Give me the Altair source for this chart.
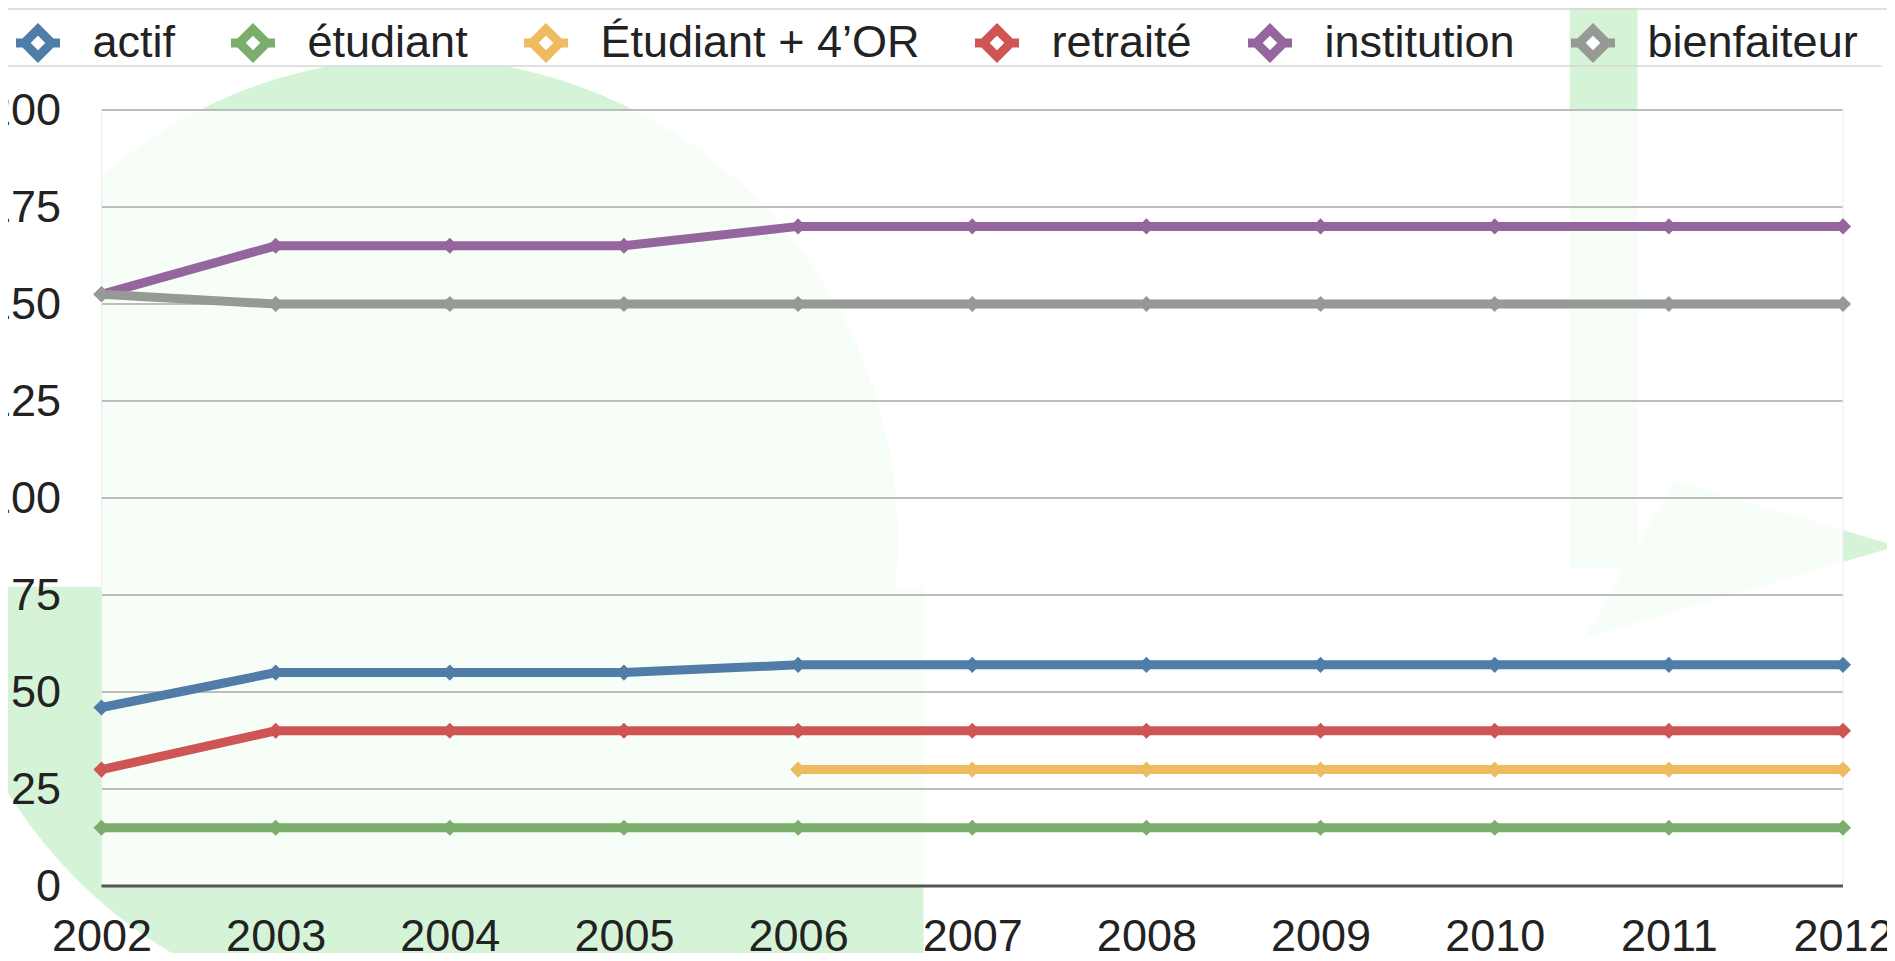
import altair as alt
import pandas as pd

# ---------------- data ----------------
years = [2002, 2003, 2004, 2005, 2006, 2007, 2008, 2009, 2010, 2011, 2012]
series_names = ["actif", "étudiant", "Étudiant + 4’OR", "retraité", "institution", "bienfaiteur"]
actif = [46, 55, 55, 55, 57, 57, 57, 57, 57, 57, 57]
etudiant = [15, 15, 15, 15, 15, 15, 15, 15, 15, 15, 15]
etudiant_4or = [None, None, None, None, 30, 30, 30, 30, 30, 30, 30]
retraite = [30, 40, 40, 40, 40, 40, 40, 40, 40, 40, 40]
institution = [152.5, 165, 165, 165, 170, 170, 170, 170, 170, 170, 170]
bienfaiteur = [152.5, 150, 150, 150, 150, 150, 150, 150, 150, 150, 150]
series_colors = ["#507DA8", "#7BAE6C", "#EFBB60", "#CF5555", "#95659E", "#959A97"]
y_ticks = [0, 25, 50, 75, 100, 125, 150, 175, 200]

series_values = [actif, etudiant, etudiant_4or, retraite, institution, bienfaiteur]
rows = []
for name, vals in zip(series_names, series_values):
    for yr, v in zip(years, vals):
        if v is not None:
            rows.append({"x": yr, "y": v, "serie": name})
df = pd.DataFrame(rows)

# ---------------- layout / style ----------------
FONT = "Liberation Sans"
TXT = "#222222"
X_DOM = [years[0], years[-1]]
Y_DOM = [y_ticks[0], y_ticks[-1]]
W, H = 1741.5, 776

X = alt.X("x:Q", scale=alt.Scale(domain=X_DOM, nice=False, zero=False),
          axis=alt.Axis(values=years, format="d", title=None, grid=False, ticks=False,
                        tickSize=0, domain=False, labelFontSize=45, labelFont=FONT,
                        labelColor=TXT, labelPadding=28, labelFlush=False,
                        labelOverlap=False, zindex=1))
Y = alt.Y("y:Q", scale=alt.Scale(domain=Y_DOM, nice=False, zero=False),
          axis=alt.Axis(values=y_ticks, title=None, grid=False, ticks=False, tickSize=0,
                        domain=False, labelFontSize=45, labelFont=FONT, labelColor=TXT,
                        labelPadding=41, labelOverlap=False, zindex=1))
X2 = alt.X2("x2:Q")
Y2 = alt.Y2("y2:Q")

# ---- decorative watermark (light green logo behind the plot) ----
WM = "#d5f3d7"
wm_circle = alt.Chart(alt.Data(values=[{"x": 2003.81, "y": 89.4}])).mark_point(
    shape="circle", filled=True, color=WM, opacity=1, size=925444).encode(x=X, y=Y)
wm_rect = alt.Chart(alt.Data(values=[{"x": 2004.75, "x2": 2006.72, "y": -21, "y2": 77.1}])).mark_rect(
    color=WM).encode(x=X, x2=X2, y=Y, y2=Y2)
band = alt.Chart(alt.Data(values=[{"x": 2001, "x2": 2013, "y": 211.3, "y2": 226.5}])).mark_rect(
    color="white").encode(x=X, x2=X2, y=Y, y2=Y2)
wm_strip = alt.Chart(alt.Data(values=[{"x": 2010.43, "x2": 2010.82, "y": 82, "y2": 240}])).mark_rect(
    color=WM).encode(x=X, x2=X2, y=Y, y2=Y2)
wm_arrow = alt.Chart(alt.Data(values=[{"x": 2011.41, "y": 84.0}])).mark_point(
    shape="M-0.406,-0.494L0.981,-0.0875L-0.975,0.4875Z", filled=True, color=WM,
    opacity=1, size=102400).encode(x=X, y=Y)
knock = alt.Chart(alt.Data(values=[{"x": 2001, "x2": 2002, "y": 77.1, "y2": 211.3}])).mark_rect(
    color="white").encode(x=X, x2=X2, y=Y, y2=Y2)
overlay = alt.Chart(alt.Data(values=[{"x": X_DOM[0], "x2": X_DOM[1], "y": Y_DOM[0], "y2": Y_DOM[1]}])).mark_rect(
    color="white", opacity=0.8).encode(x=X, x2=X2, y=Y, y2=Y2)

# ---- grid ----
grid_df = pd.DataFrame({"y": y_ticks[1:], "x": X_DOM[0], "x2": X_DOM[1]})
grid = alt.Chart(grid_df).mark_rule(color="#bdbdbd", strokeWidth=2).encode(x=X, x2=X2, y=Y)
edges_df = pd.DataFrame({"x": X_DOM, "y": Y_DOM[0], "y2": Y_DOM[1]})
edges = alt.Chart(edges_df).mark_rule(color="#ececec", strokeWidth=1).encode(x=X, y=Y, y2=Y2)
zero_df = pd.DataFrame({"y": [y_ticks[0]], "x": X_DOM[0], "x2": X_DOM[1]})
zero = alt.Chart(zero_df).mark_rule(color="#555555", strokeWidth=3).encode(x=X, x2=X2, y=Y)

# ---- series ----
LEG_PATH = "M-0.62,0L0,-0.62L0.62,0L0,0.62Z M-1,0L-0.62,0 M0.62,0L1,0"
lines = alt.Chart(df).mark_line(strokeWidth=9, strokeJoin="miter").encode(
    x=X, y=Y,
    color=alt.Color("serie:N", scale=alt.Scale(domain=series_names, range=series_colors),
                    sort=series_names,
                    legend=alt.Legend(orient="none", legendX=-90, legendY=-94,
                                      direction="horizontal", title=None,
                                      symbolType=LEG_PATH, symbolSize=1936,
                                      symbolStrokeWidth=9, symbolFillColor="white",
                                      labelFontSize=45, labelFont=FONT, labelColor=TXT,
                                      labelOffset=28, columnPadding=37, padding=0,
                                      labelLimit=1000, symbolOpacity=1)),
    detail="serie:N",
)
points = alt.Chart(df).mark_point(shape="diamond", filled=True, opacity=1, size=260).encode(
    x=X, y=Y,
    fill=alt.Fill("serie:N", scale=alt.Scale(domain=series_names, range=series_colors),
                  legend=None))

# ---- legend separators ----
sep = alt.Chart(alt.Data(values=[{}])).mark_rule(color="#d6d6d6", strokeWidth=1.5)
sep_top = sep.encode(x=alt.value(-94), x2=alt.value(1790), y=alt.value(-101))
sep_bot = sep.encode(x=alt.value(-94), x2=alt.value(1780), y=alt.value(-44))

chart = alt.layer(
    wm_circle, wm_rect, band, wm_strip, wm_arrow, knock, overlay,
    grid, edges, zero, lines, points, sep_top, sep_bot
).resolve_legend(color="independent", fill="independent").properties(
    width=W, height=H,
    autosize=alt.AutoSizeParams(type="none"),
    padding={"left": 93.5, "top": 102, "right": 44, "bottom": 67},
    background="white",
).configure_view(stroke=None)

chart.save("out.html", embed_options={"renderer": "svg", "actions": False})
